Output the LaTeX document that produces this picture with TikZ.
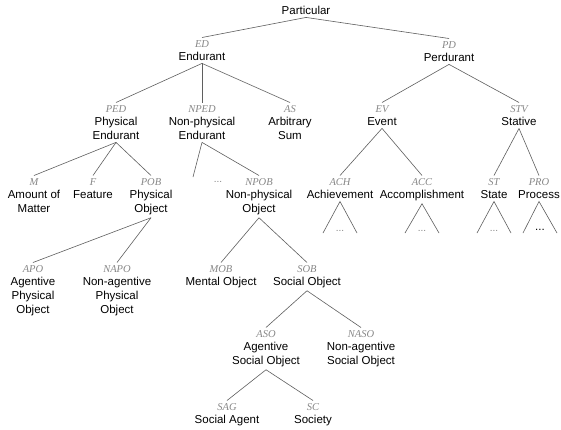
\documentclass[tikz,border=0pt]{standalone}
\usepackage{fontspec}
\setmainfont{Liberation Sans}
\newfontfamily\labfont{Liberation Serif}
\definecolor{labgray}{RGB}{135,135,135}
\definecolor{edgegray}{RGB}{95,95,95}
\newcommand\lab[1]{{\labfont\itshape\fontsize{10.5}{12}\selectfont\color{labgray}#1}}
\tikzset{
  cat/.style={anchor=north, align=center, inner xsep=1pt, inner ysep=3pt, font=\fontsize{11.5}{14}\selectfont},
  top/.style={inner xsep=1pt, inner ysep=3pt, font=\fontsize{11.5}{14}\selectfont},
  edge/.style={draw=edgegray, line width=0.6pt},
  dotsgray/.style={inner sep=0pt, font=\fontsize{10}{12}\selectfont, text=labgray},
  dotsblack/.style={inner sep=0pt, font=\fontsize{11.5}{12}\selectfont}
}
\begin{document}
\begin{tikzpicture}[x=1pt,y=-1pt]
\useasboundingbox[fill=white] (0,0) rectangle (561,429);
% level 0
\node[top] (part) at (306,10) {Particular};
% level 1
\node[cat] (ED) at (202,37.5) {\lab{ED}\\[-1.5pt]Endurant};
\node[cat] (PD) at (449,38.5) {\lab{PD}\\[-1.5pt]Perdurant};
% level 2
\node[cat] (PED) at (116,102.5) {\lab{PED}\\[-1.5pt]Physical\\Endurant};
\node[cat] (NPED) at (202,102.5) {\lab{NPED}\\[-1.5pt]Non-physical\\Endurant};
\node[cat] (AS) at (290,102.5) {\lab{AS}\\[-1.5pt]Arbitrary\\Sum};
\node[cat] (EV) at (382,102.5) {\lab{EV}\\[-1.5pt]Event};
\node[cat] (STV) at (519,102.5) {\lab{STV}\\[-1.5pt]Stative};
% level 3
\node[cat] (M) at (34,175.5) {\lab{M}\\[-1.5pt]Amount of\\Matter};
\node[cat] (F) at (93,175.5) {\lab{F}\\[-1.5pt]Feature};
\node[cat] (POB) at (151,175.5) {\lab{POB}\\[-1.5pt]Physical\\Object};
\node[dotsgray] (npdots) at (218,182) {...};
\coordinate (npedend) at (193,177);
\node[cat] (NPOB) at (259,175.5) {\lab{NPOB}\\[-1.5pt]Non-physical\\Object};
\node[cat] (ACH) at (340,175.5) {\lab{ACH}\\[-1.5pt]Achievement};
\node[cat] (ACC) at (422,175.5) {\lab{ACC}\\[-1.5pt]Accomplishment};
\node[cat] (ST) at (494,175.5) {\lab{ST}\\[-1.5pt]State};
\node[cat] (PRO) at (539,175.5) {\lab{PRO}\\[-1.5pt]Process};
% level 4
\node[cat] (APO) at (33,262.5) {\lab{APO}\\[-1.5pt]Agentive\\Physical\\Object};
\node[cat] (NAPO) at (117,262.5) {\lab{NAPO}\\[-1.5pt]Non-agentive\\Physical\\Object};
\node[cat] (MOB) at (221,262.5) {\lab{MOB}\\[-1.5pt]Mental Object};
\node[cat] (SOB) at (307,262.5) {\lab{SOB}\\[-1.5pt]Social Object};
% level 5
\node[cat] (ASO) at (266,327.5) {\lab{ASO}\\[-1.5pt]Agentive\\Social Object};
\node[cat] (NASO) at (361,327.5) {\lab{NASO}\\[-1.5pt]Non-agentive\\Social Object};
% level 6
\node[cat] (SAG) at (227,400.5) {\lab{SAG}\\[-1.5pt]Social Agent};
\node[cat] (SC) at (313,400.5) {\lab{SC}\\[-1.5pt]Society};
% triangle ends and dots
\foreach \n/\x in {ACH/340,ACC/422,ST/494,PRO/540}{
  \coordinate (\n tl) at (\x-17,233);
  \coordinate (\n tr) at (\x+17,233);
}
\node[dotsgray] (achdots) at (340,230.5) {...};
\node[dotsgray] (accdots) at (422,230.5) {...};
\node[dotsgray] (stdots) at (494,230.5) {...};
\node[dotsblack] (prodots) at (540,230) {...};
% edges
\draw[edge] (part.south) -- (ED.north);
\draw[edge] (part.south) -- (PD.north);
\draw[edge] (ED.south) -- (PED.north);
\draw[edge] (ED.south) -- (NPED.north);
\draw[edge] (ED.south) -- (AS.north);
\draw[edge] (PD.south) -- (EV.north);
\draw[edge] (PD.south) -- (STV.north);
\draw[edge] (PED.south) -- (M.north);
\draw[edge] (PED.south) -- (F.north);
\draw[edge] (PED.south) -- (POB.north);
\draw[edge] (NPED.south) -- (npedend);
\draw[edge] (NPED.south) -- (NPOB.north);
\draw[edge] (EV.south) -- (ACH.north);
\draw[edge] (EV.south) -- (ACC.north);
\draw[edge] (STV.south) -- (ST.north);
\draw[edge] (STV.south) -- (PRO.north);
\draw[edge] (POB.south) -- (APO.north);
\draw[edge] (POB.south) -- (NAPO.north);
\draw[edge] (NPOB.south) -- (MOB.north);
\draw[edge] (NPOB.south) -- (SOB.north);
\draw[edge] (SOB.south) -- (ASO.north);
\draw[edge] (SOB.south) -- (NASO.north);
\draw[edge] (ASO.south) -- (SAG.north);
\draw[edge] (ASO.south) -- (SC.north);
\foreach \n in {ACH,ACC,ST,PRO}{
  \draw[edge] (\n tl) -- (\n.south) -- (\n tr);
}
\end{tikzpicture}
\end{document}
